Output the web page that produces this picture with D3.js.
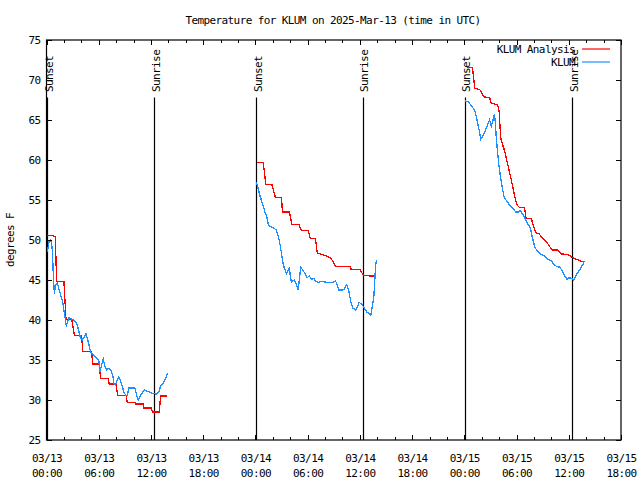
<!DOCTYPE html>
<html>
<head>
<meta charset="utf-8">
<script src="https://cdn.jsdelivr.net/npm/d3@7"></script>
<style>
body { margin: 0; background: #fff; }
svg text { font-family: "DejaVu Sans Mono", "Liberation Mono", monospace; font-size: 11px; letter-spacing: -0.6px; fill: #000; }
.domain { display: none; }
.tick line { stroke: #000; shape-rendering: crispEdges; }
path.analysis, path.obs { shape-rendering: crispEdges; }
</style>
</head>
<body>
<svg width="640" height="480"></svg>
<script>
const width = 640;
const height = 480;
const plot = {left: 46.5, right: 621, top: 40, bottom: 440};

const titleText = "Temperature for KLUM on 2025-Mar-13 (time in UTC)";
const yLabel = "degrees F";
const seriesNames = ["KLUM Analysis", "KLUM"];
const seriesColors = ["#ff0000", "#1e8fff"];

// time axis: hours counted from 03/13 00:00 UTC
const startUtc = Date.UTC(2025, 2, 13, 0, 0);
const endUtc = Date.UTC(2025, 2, 15, 18, 0);
const yDomain = [25, 75];
const yTicks = [25, 30, 35, 40, 45, 50, 55, 60, 65, 70, 75];

const sunsetHours = [0.08, 24.1, 48.07];
const sunriseHours = [12.38, 36.37, 60.39];

// analysis temperature, one array per night  [hour, degF]
const analysis1 = [[0.1,50.6],[0.8,50.6],[0.85,50.4],[1.0,50.4],[1.17,44.8],[2.0,44.8],[2.24,40.1],[2.9,40.1],[3.2,38.1],[4.04,38.1],[4.15,36.1],[5.18,36.1],[5.3,34.5],[6.07,34.5],[6.2,32.7],[7.1,32.7],[7.2,32.0],[7.98,32.0],[8.17,30.6],[9.13,30.6],[9.28,29.7],[10.16,29.7],[10.25,29.5],[11.1,29.5],[11.2,29.0],[12.07,29.0],[12.15,28.5],[12.96,28.5],[13.1,30.5],[13.9,30.5]];
const analysis2 = [[24.13,59.7],[24.9,59.7],[25.2,56.9],[25.9,56.9],[26.3,55.3],[27.0,55.3],[27.1,53.5],[27.9,53.5],[28.2,51.9],[29.0,51.9],[29.3,51.2],[30.06,51.2],[30.3,50.2],[30.9,50.2],[31.1,48.4],[31.4,48.3],[31.9,48.1],[32.35,47.9],[32.7,47.7],[32.9,47.3],[33.2,46.7],[34.9,46.7],[35.0,46.3],[36.0,46.3],[36.4,45.6],[37.06,45.6],[37.1,45.5],[37.9,45.5]];
const analysis3 = [[48.31,71.6],[48.93,71.6],[49.2,69.0],[49.77,68.8],[49.97,68.5],[50.23,67.9],[50.9,67.8],[51.1,67.1],[51.76,66.9],[51.87,66.75],[52.0,66.0],[52.1,64.2],[52.2,62.7],[52.4,61.9],[52.6,61.25],[53.0,59.4],[53.4,57.5],[53.8,55.4],[54.05,54.4],[54.3,54.1],[54.9,54.1],[55.1,52.7],[55.7,52.7],[55.9,51.9],[56.2,50.9],[56.6,50.75],[57.0,50.2],[57.5,49.7],[57.8,49.2],[58.1,48.75],[58.76,48.75],[59.15,48.25],[59.9,48.2],[60.3,47.9],[61.06,47.5],[61.8,47.2]];

// observed temperature at KLUM  [hour, degF]
const obs1 = [[0.1,48.5],[0.3,49.8],[0.5,50.0],[0.6,49.4],[0.7,48.3],[0.75,46.5],[0.9,43.3],[1.05,44.4],[1.24,44.6],[1.4,44.0],[1.63,43.1],[1.86,42.3],[2.0,41.2],[2.12,40.4],[2.28,39.2],[2.4,39.8],[2.58,40.3],[2.78,40.2],[3.08,40.0],[3.35,39.8],[3.54,39.4],[3.73,38.5],[3.92,37.7],[4.1,37.5],[4.34,37.9],[4.53,38.3],[4.69,37.7],[4.88,36.9],[5.07,36.0],[5.3,35.8],[5.57,35.4],[5.84,35.2],[6.03,34.8],[6.14,33.5],[6.34,34.4],[6.52,35.1],[6.72,34.2],[6.91,33.75],[7.1,33.96],[7.37,33.75],[7.6,33.1],[7.75,32.1],[7.94,31.9],[8.13,32.5],[8.32,32.9],[8.51,32.3],[8.7,31.7],[8.9,31.0],[9.09,30.6],[9.28,30.6],[9.47,31.5],[9.67,31.5],[9.97,31.5],[10.16,31.5],[10.36,30.6],[10.54,30.0],[10.73,30.4],[11.0,30.9],[11.23,31.25],[11.5,31.1],[11.9,30.96],[12.27,30.8],[12.65,30.75],[12.9,31.0],[13.1,31.7],[13.4,32.1],[13.7,32.7],[13.9,33.4]];
const obs2 = [[24.13,57.2],[24.3,56.5],[24.5,55.6],[24.8,54.6],[25.1,53.5],[25.3,52.9],[25.5,51.9],[25.7,51.7],[26.1,51.5],[26.4,51.25],[26.6,50.6],[26.8,49.6],[27.0,48.3],[27.2,46.9],[27.4,46.25],[27.6,45.8],[27.8,46.3],[27.9,46.6],[28.0,45.5],[28.15,44.7],[28.3,44.9],[28.5,45.0],[28.7,44.4],[28.9,43.8],[29.0,44.6],[29.2,46.6],[29.4,46.3],[29.7,45.8],[29.95,45.3],[30.2,45.5],[30.45,45.1],[30.7,45.2],[30.9,44.9],[31.2,44.7],[31.5,44.8],[31.8,44.8],[32.2,44.7],[32.5,44.7],[32.9,44.7],[33.2,44.9],[33.4,44.4],[33.6,43.75],[33.9,43.75],[34.2,43.8],[34.4,44.25],[34.5,44.4],[34.7,43.8],[34.85,42.9],[35.0,42.1],[35.2,41.5],[35.5,41.25],[35.7,41.6],[35.9,42.2],[36.2,42.0],[36.4,41.7],[36.6,41.3],[36.8,41.0],[37.05,40.8],[37.25,40.6],[37.4,41.5],[37.6,42.9],[37.7,44.6],[37.8,46.7],[37.9,47.5]];
const obs3 = [[48.05,67.4],[48.43,67.3],[48.8,66.8],[49.2,66.2],[49.46,65.0],[49.7,63.75],[49.9,62.6],[50.15,63.1],[50.46,63.8],[50.72,64.5],[50.9,65.0],[51.1,64.25],[51.3,65.0],[51.46,65.75],[51.57,64.6],[51.69,62.5],[51.84,60.8],[51.99,59.2],[52.15,57.9],[52.33,56.7],[52.56,55.4],[52.9,54.8],[53.2,54.4],[53.6,53.96],[53.9,53.5],[54.2,53.5],[54.4,53.7],[54.7,53.25],[55.05,52.5],[55.3,52.0],[55.6,51.5],[55.8,50.4],[56.1,49.1],[56.35,48.7],[56.66,48.3],[57.0,48.1],[57.35,47.9],[57.6,47.6],[58.0,47.4],[58.3,46.9],[58.6,46.7],[58.95,46.6],[59.2,46.25],[59.5,45.6],[59.8,45.1],[60.0,45.3],[60.3,45.2],[60.56,45.0],[60.8,45.5],[61.2,46.2],[61.6,46.9],[61.8,47.4]];

const analysisNights = [analysis1, analysis2, analysis3];
const obsNights = [obs1, obs2, obs3];

const svg = d3.select("svg");
const toDate = h => new Date(startUtc + h * 3600e3);

const x = d3.scaleUtc()
    .domain([new Date(startUtc), new Date(endUtc)])
    .range([plot.left, plot.right]);
const y = d3.scaleLinear()
    .domain(yDomain)
    .range([plot.bottom, plot.top]);

const majorTicks = d3.utcHour.every(6).range(new Date(startUtc), new Date(endUtc + 1));
const minorTicks = d3.utcHour.every(2).range(new Date(startUtc), new Date(endUtc + 1))
    .filter(d => d.getUTCHours() % 6 !== 0);

// sunrise / sunset markers
const sunEvents = sunsetHours.map(h => ({h, label: "Sunset"}))
    .concat(sunriseHours.map(h => ({h, label: "Sunrise"})));

svg.selectAll(".sunline")
    .data(sunEvents)
    .enter()
    .append("line")
    .attr("class", "sunline")
    .attr("x1", d => Math.round(x(toDate(d.h))) + 0.5)
    .attr("x2", d => Math.round(x(toDate(d.h))) + 0.5)
    .attr("y1", y(25))
    .attr("y2", y(67.8))
    .attr("stroke", "#000")
    .attr("stroke-width", 1.2);

svg.selectAll(".sunlabel")
    .data(sunEvents)
    .enter()
    .append("text")
    .attr("class", "sunlabel")
    .attr("transform", d => `translate(${x(toDate(d.h)) + 1.5},${y(68.5)}) rotate(-90)`)
    .attr("dy", "0.35em")
    .text(d => d.label);

// data lines
const line = d3.line()
    .x(d => x(toDate(d[0])))
    .y(d => y(d[1]));

svg.selectAll(".analysis")
    .data(analysisNights)
    .enter()
    .append("path")
    .attr("class", "analysis")
    .attr("d", line)
    .attr("fill", "none")
    .attr("stroke", seriesColors[0])
    .attr("stroke-width", 1.3);

svg.selectAll(".obs")
    .data(obsNights)
    .enter()
    .append("path")
    .attr("class", "obs")
    .attr("d", line)
    .attr("fill", "none")
    .attr("stroke", seriesColors[1])
    .attr("stroke-width", 1.3);

// axes, gnuplot style: ticks point inward, mirrored on all sides
const bottom = svg.append("g")
    .attr("transform", `translate(0,${plot.bottom})`)
    .call(d3.axisBottom(x).tickValues(majorTicks).tickSizeInner(-5).tickSizeOuter(0));
bottom.selectAll(".tick text").each(function(d) {
    const t = d3.select(this).text(null).attr("y", null).attr("dy", null);
    t.append("tspan").attr("x", 0).attr("y", 22).text(d3.utcFormat("%m/%d")(d));
    t.append("tspan").attr("x", 0).attr("y", 37).text(d3.utcFormat("%H:%M")(d));
});
svg.append("g")
    .attr("transform", `translate(0,${plot.bottom})`)
    .call(d3.axisBottom(x).tickValues(minorTicks).tickSizeInner(-3).tickSizeOuter(0).tickFormat(""));
svg.append("g")
    .attr("transform", `translate(0,${plot.top})`)
    .call(d3.axisTop(x).tickValues(majorTicks).tickSizeInner(-5).tickSizeOuter(0).tickFormat(""));
svg.append("g")
    .attr("transform", `translate(0,${plot.top})`)
    .call(d3.axisTop(x).tickValues(minorTicks).tickSizeInner(-3).tickSizeOuter(0).tickFormat(""));

svg.append("g")
    .attr("transform", `translate(${plot.left},0)`)
    .call(d3.axisLeft(y).tickValues(yTicks).tickSizeInner(-5).tickSizeOuter(0).tickPadding(6));
svg.append("g")
    .attr("transform", `translate(${plot.right},0)`)
    .call(d3.axisRight(y).tickValues(yTicks).tickSizeInner(-5).tickSizeOuter(0).tickFormat(""));

svg.selectAll(".tick text").attr("font-family", null).attr("font-size", null);

// frame
svg.append("rect")
    .attr("x", plot.left)
    .attr("y", plot.top)
    .attr("width", plot.right - plot.left)
    .attr("height", plot.bottom - plot.top)
    .attr("fill", "none")
    .attr("stroke", "#000")
    .attr("stroke-width", 1.2);

// title and y label
svg.append("text")
    .attr("x", 333)
    .attr("y", 24)
    .attr("text-anchor", "middle")
    .text(titleText);

svg.append("text")
    .attr("transform", `translate(14,${(plot.top + plot.bottom) / 2}) rotate(-90)`)
    .attr("text-anchor", "middle")
    .text(yLabel);

// legend
const legend = svg.selectAll(".legend")
    .data(seriesNames)
    .enter()
    .append("g")
    .attr("class", "legend")
    .attr("transform", (d, i) => `translate(0,${49 + i * 13})`);
legend.append("text")
    .attr("x", 575)
    .attr("dy", "0.35em")
    .attr("text-anchor", "end")
    .text(d => d);
legend.append("line")
    .attr("x1", 582)
    .attr("x2", 610)
    .attr("stroke", (d, i) => seriesColors[i])
    .attr("stroke-width", 1.2);
</script>
</body>
</html>
